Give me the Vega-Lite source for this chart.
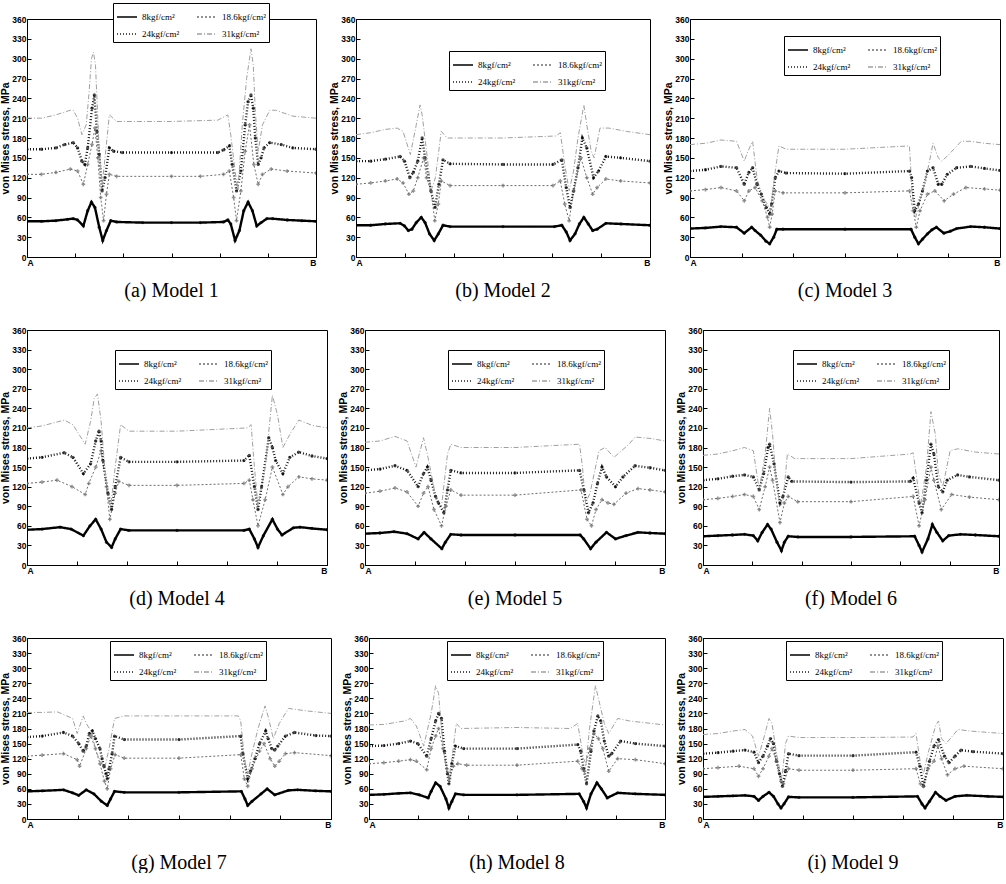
{
"$schema":"https://vega.github.io/schema/vega-lite/v6.json",
"padding":{"left":0,"top":2,"right":0,"bottom":0},
"background":"white",
"config":{
 "view":{"stroke":"#000","strokeWidth":1},
 "axis":{"labelFont":"Liberation Sans","labelFontWeight":"bold","labelFontSize":8.5,"labelColor":"#000","titleFont":"Liberation Sans","titleFontWeight":"bold","titleFontSize":10.5,"titleColor":"#000","domainColor":"#000","tickColor":"#000","grid":false,"tickSize":-4,"labelPadding":5,"titlePadding":1},
 "title":{"orient":"bottom","font":"Liberation Serif","fontSize":20,"fontWeight":"normal","color":"#000","offset":14,"anchor":"middle"},
 "legend":{"orient":"none","direction":"horizontal","columns":2,"fillColor":"white","strokeColor":"#000","strokeWidth":1,"padding":3,"labelFont":"Liberation Serif","labelFontSize":9,"labelColor":"#000","symbolType":"stroke","symbolSize":400,"symbolStrokeWidth":1.5,"columnPadding":14,"rowPadding":1,"labelLimit":90}
},
"data":{"values":[
{"p":"a","s":"8","x":0,"y":54},{"p":"a","s":"8","x":5,"y":54},{"p":"a","s":"8","x":10,"y":55},{"p":"a","s":"8","x":14,"y":57},{"p":"a","s":"8","x":16,"y":58},{"p":"a","s":"8","x":17.5,"y":56},{"p":"a","s":"8","x":19.5,"y":47},{"p":"a","s":"8","x":21,"y":70},{"p":"a","s":"8","x":22.3,"y":83},{"p":"a","s":"8","x":23.5,"y":75},{"p":"a","s":"8","x":25,"y":45},{"p":"a","s":"8","x":26.2,"y":25},{"p":"a","s":"8","x":27.5,"y":40},{"p":"a","s":"8","x":29,"y":55},{"p":"a","s":"8","x":31,"y":53},{"p":"a","s":"8","x":40,"y":52},{"p":"a","s":"8","x":50,"y":52},{"p":"a","s":"8","x":60,"y":52},{"p":"a","s":"8","x":68,"y":53},{"p":"a","s":"8","x":69.5,"y":56},{"p":"a","s":"8","x":70.5,"y":50},{"p":"a","s":"8","x":72,"y":25},{"p":"a","s":"8","x":73.5,"y":40},{"p":"a","s":"8","x":75,"y":70},{"p":"a","s":"8","x":76.5,"y":83},{"p":"a","s":"8","x":78,"y":70},{"p":"a","s":"8","x":79.5,"y":47},{"p":"a","s":"8","x":81,"y":52},{"p":"a","s":"8","x":83,"y":58},{"p":"a","s":"8","x":85,"y":58},{"p":"a","s":"8","x":90,"y":56},{"p":"a","s":"8","x":95,"y":55},{"p":"a","s":"8","x":100,"y":54},
{"p":"a","s":"24","x":0,"y":163},{"p":"a","s":"24","x":5,"y":163},{"p":"a","s":"24","x":10,"y":165},{"p":"a","s":"24","x":13,"y":170},{"p":"a","s":"24","x":16,"y":173},{"p":"a","s":"24","x":17.5,"y":165},{"p":"a","s":"24","x":19,"y":145},{"p":"a","s":"24","x":20,"y":140},{"p":"a","s":"24","x":21,"y":165},{"p":"a","s":"24","x":22.5,"y":225},{"p":"a","s":"24","x":23.3,"y":245},{"p":"a","s":"24","x":24.2,"y":190},{"p":"a","s":"24","x":25,"y":155},{"p":"a","s":"24","x":26,"y":100},{"p":"a","s":"24","x":27,"y":120},{"p":"a","s":"24","x":28.5,"y":165},{"p":"a","s":"24","x":30,"y":160},{"p":"a","s":"24","x":33,"y":158},{"p":"a","s":"24","x":50,"y":158},{"p":"a","s":"24","x":66,"y":158},{"p":"a","s":"24","x":68,"y":162},{"p":"a","s":"24","x":70,"y":168},{"p":"a","s":"24","x":71,"y":140},{"p":"a","s":"24","x":72.5,"y":100},{"p":"a","s":"24","x":74,"y":130},{"p":"a","s":"24","x":75.5,"y":200},{"p":"a","s":"24","x":76.5,"y":235},{"p":"a","s":"24","x":77.5,"y":245},{"p":"a","s":"24","x":78.3,"y":225},{"p":"a","s":"24","x":79,"y":180},{"p":"a","s":"24","x":80,"y":140},{"p":"a","s":"24","x":81,"y":150},{"p":"a","s":"24","x":82,"y":165},{"p":"a","s":"24","x":84,"y":173},{"p":"a","s":"24","x":88,"y":170},{"p":"a","s":"24","x":92,"y":165},{"p":"a","s":"24","x":100,"y":163},
{"p":"a","s":"18.6","x":0,"y":125},{"p":"a","s":"18.6","x":5,"y":125},{"p":"a","s":"18.6","x":10,"y":128},{"p":"a","s":"18.6","x":15,"y":133},{"p":"a","s":"18.6","x":17.5,"y":130},{"p":"a","s":"18.6","x":19.5,"y":110},{"p":"a","s":"18.6","x":21,"y":140},{"p":"a","s":"18.6","x":22.5,"y":170},{"p":"a","s":"18.6","x":23.5,"y":195},{"p":"a","s":"18.6","x":24.5,"y":150},{"p":"a","s":"18.6","x":25.5,"y":90},{"p":"a","s":"18.6","x":26.5,"y":55},{"p":"a","s":"18.6","x":27.5,"y":95},{"p":"a","s":"18.6","x":28.5,"y":125},{"p":"a","s":"18.6","x":31,"y":122},{"p":"a","s":"18.6","x":50,"y":122},{"p":"a","s":"18.6","x":60,"y":122},{"p":"a","s":"18.6","x":68,"y":125},{"p":"a","s":"18.6","x":70,"y":130},{"p":"a","s":"18.6","x":71.5,"y":90},{"p":"a","s":"18.6","x":72.5,"y":55},{"p":"a","s":"18.6","x":74,"y":100},{"p":"a","s":"18.6","x":75.5,"y":160},{"p":"a","s":"18.6","x":77,"y":200},{"p":"a","s":"18.6","x":78.5,"y":140},{"p":"a","s":"18.6","x":80,"y":110},{"p":"a","s":"18.6","x":81.5,"y":125},{"p":"a","s":"18.6","x":84.5,"y":133},{"p":"a","s":"18.6","x":90,"y":130},{"p":"a","s":"18.6","x":100,"y":127},
{"p":"a","s":"31","x":0,"y":210},{"p":"a","s":"31","x":5,"y":210},{"p":"a","s":"31","x":10,"y":215},{"p":"a","s":"31","x":15,"y":222},{"p":"a","s":"31","x":16,"y":222},{"p":"a","s":"31","x":17.5,"y":210},{"p":"a","s":"31","x":19,"y":185},{"p":"a","s":"31","x":20.5,"y":200},{"p":"a","s":"31","x":21.5,"y":250},{"p":"a","s":"31","x":22.3,"y":300},{"p":"a","s":"31","x":23,"y":310},{"p":"a","s":"31","x":23.7,"y":290},{"p":"a","s":"31","x":24.3,"y":230},{"p":"a","s":"31","x":25,"y":160},{"p":"a","s":"31","x":26,"y":110},{"p":"a","s":"31","x":27,"y":150},{"p":"a","s":"31","x":28.5,"y":215},{"p":"a","s":"31","x":31,"y":205},{"p":"a","s":"31","x":50,"y":205},{"p":"a","s":"31","x":66,"y":207},{"p":"a","s":"31","x":69.5,"y":215},{"p":"a","s":"31","x":70.5,"y":185},{"p":"a","s":"31","x":72,"y":130},{"p":"a","s":"31","x":73,"y":100},{"p":"a","s":"31","x":74.5,"y":200},{"p":"a","s":"31","x":76,"y":270},{"p":"a","s":"31","x":77.5,"y":315},{"p":"a","s":"31","x":78.3,"y":290},{"p":"a","s":"31","x":79,"y":220},{"p":"a","s":"31","x":80,"y":160},{"p":"a","s":"31","x":81.5,"y":200},{"p":"a","s":"31","x":84,"y":222},{"p":"a","s":"31","x":86,"y":222},{"p":"a","s":"31","x":92,"y":213},{"p":"a","s":"31","x":100,"y":210},

{"p":"b","s":"8","x":0,"y":48},{"p":"b","s":"8","x":5,"y":48},{"p":"b","s":"8","x":10,"y":50},{"p":"b","s":"8","x":15,"y":51},{"p":"b","s":"8","x":16.5,"y":47},{"p":"b","s":"8","x":17.8,"y":40},{"p":"b","s":"8","x":19,"y":42},{"p":"b","s":"8","x":20.5,"y":52},{"p":"b","s":"8","x":22.2,"y":60},{"p":"b","s":"8","x":23.5,"y":52},{"p":"b","s":"8","x":25,"y":35},{"p":"b","s":"8","x":26.6,"y":25},{"p":"b","s":"8","x":28,"y":35},{"p":"b","s":"8","x":29.6,"y":48},{"p":"b","s":"8","x":32,"y":46},{"p":"b","s":"8","x":50,"y":46},{"p":"b","s":"8","x":67.5,"y":46},{"p":"b","s":"8","x":70,"y":48},{"p":"b","s":"8","x":71.5,"y":38},{"p":"b","s":"8","x":72.8,"y":25},{"p":"b","s":"8","x":74.5,"y":35},{"p":"b","s":"8","x":76,"y":50},{"p":"b","s":"8","x":77.5,"y":60},{"p":"b","s":"8","x":79,"y":50},{"p":"b","s":"8","x":80.5,"y":40},{"p":"b","s":"8","x":82,"y":42},{"p":"b","s":"8","x":85,"y":51},{"p":"b","s":"8","x":90,"y":50},{"p":"b","s":"8","x":100,"y":48},
{"p":"b","s":"24","x":0,"y":145},{"p":"b","s":"24","x":5,"y":145},{"p":"b","s":"24","x":10,"y":148},{"p":"b","s":"24","x":15,"y":152},{"p":"b","s":"24","x":16.5,"y":145},{"p":"b","s":"24","x":18.3,"y":120},{"p":"b","s":"24","x":19.5,"y":128},{"p":"b","s":"24","x":21,"y":145},{"p":"b","s":"24","x":22.5,"y":180},{"p":"b","s":"24","x":23.5,"y":150},{"p":"b","s":"24","x":25.5,"y":100},{"p":"b","s":"24","x":26.9,"y":75},{"p":"b","s":"24","x":28.2,"y":110},{"p":"b","s":"24","x":29.6,"y":147},{"p":"b","s":"24","x":32,"y":141},{"p":"b","s":"24","x":50,"y":140},{"p":"b","s":"24","x":67,"y":140},{"p":"b","s":"24","x":70,"y":147},{"p":"b","s":"24","x":71.5,"y":105},{"p":"b","s":"24","x":72.8,"y":75},{"p":"b","s":"24","x":74,"y":100},{"p":"b","s":"24","x":75.5,"y":135},{"p":"b","s":"24","x":77,"y":180},{"p":"b","s":"24","x":78.5,"y":165},{"p":"b","s":"24","x":80.8,"y":120},{"p":"b","s":"24","x":82.5,"y":130},{"p":"b","s":"24","x":85,"y":152},{"p":"b","s":"24","x":90,"y":150},{"p":"b","s":"24","x":100,"y":145},
{"p":"b","s":"18.6","x":0,"y":110},{"p":"b","s":"18.6","x":5,"y":112},{"p":"b","s":"18.6","x":10,"y":115},{"p":"b","s":"18.6","x":14,"y":118},{"p":"b","s":"18.6","x":16,"y":112},{"p":"b","s":"18.6","x":18,"y":95},{"p":"b","s":"18.6","x":19.5,"y":100},{"p":"b","s":"18.6","x":21,"y":120},{"p":"b","s":"18.6","x":23,"y":150},{"p":"b","s":"18.6","x":24,"y":120},{"p":"b","s":"18.6","x":25.5,"y":100},{"p":"b","s":"18.6","x":26.8,"y":55},{"p":"b","s":"18.6","x":28,"y":80},{"p":"b","s":"18.6","x":29,"y":115},{"p":"b","s":"18.6","x":32,"y":108},{"p":"b","s":"18.6","x":50,"y":108},{"p":"b","s":"18.6","x":67,"y":108},{"p":"b","s":"18.6","x":69.5,"y":115},{"p":"b","s":"18.6","x":71,"y":80},{"p":"b","s":"18.6","x":72.5,"y":55},{"p":"b","s":"18.6","x":74,"y":100},{"p":"b","s":"18.6","x":76.5,"y":150},{"p":"b","s":"18.6","x":78.5,"y":120},{"p":"b","s":"18.6","x":80.5,"y":95},{"p":"b","s":"18.6","x":82,"y":105},{"p":"b","s":"18.6","x":85,"y":118},{"p":"b","s":"18.6","x":90,"y":115},{"p":"b","s":"18.6","x":100,"y":112},
{"p":"b","s":"31","x":0,"y":185},{"p":"b","s":"31","x":5,"y":188},{"p":"b","s":"31","x":10,"y":193},{"p":"b","s":"31","x":14,"y":195},{"p":"b","s":"31","x":16,"y":190},{"p":"b","s":"31","x":18.5,"y":155},{"p":"b","s":"31","x":20.5,"y":200},{"p":"b","s":"31","x":21.8,"y":230},{"p":"b","s":"31","x":22.5,"y":215},{"p":"b","s":"31","x":24,"y":160},{"p":"b","s":"31","x":25.5,"y":100},{"p":"b","s":"31","x":27,"y":120},{"p":"b","s":"31","x":29,"y":190},{"p":"b","s":"31","x":31,"y":180},{"p":"b","s":"31","x":50,"y":180},{"p":"b","s":"31","x":68,"y":183},{"p":"b","s":"31","x":69.5,"y":188},{"p":"b","s":"31","x":71,"y":140},{"p":"b","s":"31","x":72.5,"y":100},{"p":"b","s":"31","x":74,"y":130},{"p":"b","s":"31","x":75.5,"y":180},{"p":"b","s":"31","x":77.5,"y":230},{"p":"b","s":"31","x":78.5,"y":200},{"p":"b","s":"31","x":80,"y":160},{"p":"b","s":"31","x":81,"y":150},{"p":"b","s":"31","x":83,"y":195},{"p":"b","s":"31","x":86,"y":195},{"p":"b","s":"31","x":92,"y":190},{"p":"b","s":"31","x":100,"y":185},

{"p":"c","s":"8","x":0,"y":43},{"p":"c","s":"8","x":5,"y":44},{"p":"c","s":"8","x":10,"y":46},{"p":"c","s":"8","x":15,"y":45},{"p":"c","s":"8","x":17.5,"y":36},{"p":"c","s":"8","x":19.9,"y":45},{"p":"c","s":"8","x":21,"y":40},{"p":"c","s":"8","x":22.8,"y":33},{"p":"c","s":"8","x":24.5,"y":24},{"p":"c","s":"8","x":25.7,"y":20},{"p":"c","s":"8","x":27,"y":30},{"p":"c","s":"8","x":28,"y":42},{"p":"c","s":"8","x":30,"y":42},{"p":"c","s":"8","x":50,"y":42},{"p":"c","s":"8","x":71.3,"y":42},{"p":"c","s":"8","x":72.5,"y":30},{"p":"c","s":"8","x":73.7,"y":20},{"p":"c","s":"8","x":75,"y":27},{"p":"c","s":"8","x":76.6,"y":35},{"p":"c","s":"8","x":78,"y":41},{"p":"c","s":"8","x":79.5,"y":45},{"p":"c","s":"8","x":81.9,"y":36},{"p":"c","s":"8","x":84,"y":39},{"p":"c","s":"8","x":86,"y":43},{"p":"c","s":"8","x":90.6,"y":46},{"p":"c","s":"8","x":95,"y":45},{"p":"c","s":"8","x":100,"y":43},
{"p":"c","s":"24","x":0,"y":130},{"p":"c","s":"24","x":5,"y":132},{"p":"c","s":"24","x":10,"y":137},{"p":"c","s":"24","x":15,"y":135},{"p":"c","s":"24","x":17.5,"y":110},{"p":"c","s":"24","x":19,"y":128},{"p":"c","s":"24","x":20.2,"y":135},{"p":"c","s":"24","x":21.6,"y":110},{"p":"c","s":"24","x":23,"y":95},{"p":"c","s":"24","x":24.6,"y":75},{"p":"c","s":"24","x":25.7,"y":65},{"p":"c","s":"24","x":26.3,"y":80},{"p":"c","s":"24","x":27.5,"y":120},{"p":"c","s":"24","x":28.7,"y":130},{"p":"c","s":"24","x":31,"y":127},{"p":"c","s":"24","x":50,"y":126},{"p":"c","s":"24","x":70.8,"y":130},{"p":"c","s":"24","x":71.5,"y":120},{"p":"c","s":"24","x":72.5,"y":70},{"p":"c","s":"24","x":73.7,"y":80},{"p":"c","s":"24","x":75,"y":100},{"p":"c","s":"24","x":76.6,"y":130},{"p":"c","s":"24","x":78.4,"y":135},{"p":"c","s":"24","x":80.1,"y":110},{"p":"c","s":"24","x":81.2,"y":110},{"p":"c","s":"24","x":83,"y":125},{"p":"c","s":"24","x":86,"y":135},{"p":"c","s":"24","x":90.6,"y":137},{"p":"c","s":"24","x":95,"y":134},{"p":"c","s":"24","x":100,"y":131},
{"p":"c","s":"18.6","x":0,"y":100},{"p":"c","s":"18.6","x":5,"y":102},{"p":"c","s":"18.6","x":10,"y":105},{"p":"c","s":"18.6","x":15,"y":100},{"p":"c","s":"18.6","x":17.5,"y":85},{"p":"c","s":"18.6","x":19,"y":100},{"p":"c","s":"18.6","x":21,"y":105},{"p":"c","s":"18.6","x":23.3,"y":85},{"p":"c","s":"18.6","x":25,"y":60},{"p":"c","s":"18.6","x":25.7,"y":45},{"p":"c","s":"18.6","x":26.5,"y":65},{"p":"c","s":"18.6","x":27.5,"y":100},{"p":"c","s":"18.6","x":30,"y":97},{"p":"c","s":"18.6","x":50,"y":97},{"p":"c","s":"18.6","x":70.8,"y":100},{"p":"c","s":"18.6","x":72,"y":70},{"p":"c","s":"18.6","x":73,"y":45},{"p":"c","s":"18.6","x":74.2,"y":70},{"p":"c","s":"18.6","x":76.6,"y":95},{"p":"c","s":"18.6","x":79,"y":100},{"p":"c","s":"18.6","x":82,"y":85},{"p":"c","s":"18.6","x":85,"y":95},{"p":"c","s":"18.6","x":89,"y":105},{"p":"c","s":"18.6","x":95,"y":103},{"p":"c","s":"18.6","x":100,"y":101},
{"p":"c","s":"31","x":0,"y":170},{"p":"c","s":"31","x":5,"y":172},{"p":"c","s":"31","x":10,"y":177},{"p":"c","s":"31","x":15,"y":175},{"p":"c","s":"31","x":17.5,"y":145},{"p":"c","s":"31","x":18.7,"y":160},{"p":"c","s":"31","x":20.2,"y":175},{"p":"c","s":"31","x":21.6,"y":120},{"p":"c","s":"31","x":23.3,"y":90},{"p":"c","s":"31","x":25,"y":80},{"p":"c","s":"31","x":26,"y":70},{"p":"c","s":"31","x":27.5,"y":130},{"p":"c","s":"31","x":28.7,"y":168},{"p":"c","s":"31","x":31,"y":163},{"p":"c","s":"31","x":50,"y":163},{"p":"c","s":"31","x":70.8,"y":168},{"p":"c","s":"31","x":71.6,"y":100},{"p":"c","s":"31","x":72.8,"y":60},{"p":"c","s":"31","x":74.5,"y":90},{"p":"c","s":"31","x":76.6,"y":130},{"p":"c","s":"31","x":78.4,"y":172},{"p":"c","s":"31","x":80.1,"y":150},{"p":"c","s":"31","x":81.2,"y":145},{"p":"c","s":"31","x":83.5,"y":155},{"p":"c","s":"31","x":87.5,"y":175},{"p":"c","s":"31","x":90.6,"y":175},{"p":"c","s":"31","x":95,"y":172},{"p":"c","s":"31","x":100,"y":170},

{"p":"d","s":"8","x":0,"y":54},{"p":"d","s":"8","x":5,"y":55},{"p":"d","s":"8","x":11,"y":58},{"p":"d","s":"8","x":14.7,"y":55},{"p":"d","s":"8","x":18.8,"y":45},{"p":"d","s":"8","x":21,"y":60},{"p":"d","s":"8","x":22.9,"y":70},{"p":"d","s":"8","x":24.7,"y":55},{"p":"d","s":"8","x":26.5,"y":35},{"p":"d","s":"8","x":28.2,"y":27},{"p":"d","s":"8","x":29.4,"y":40},{"p":"d","s":"8","x":31.2,"y":55},{"p":"d","s":"8","x":34,"y":53},{"p":"d","s":"8","x":50,"y":53},{"p":"d","s":"8","x":72.3,"y":53},{"p":"d","s":"8","x":74.1,"y":55},{"p":"d","s":"8","x":75.8,"y":40},{"p":"d","s":"8","x":77,"y":27},{"p":"d","s":"8","x":78.8,"y":45},{"p":"d","s":"8","x":81.8,"y":70},{"p":"d","s":"8","x":83.5,"y":55},{"p":"d","s":"8","x":85,"y":46},{"p":"d","s":"8","x":88.8,"y":57},{"p":"d","s":"8","x":91,"y":58},{"p":"d","s":"8","x":95,"y":56},{"p":"d","s":"8","x":100,"y":54},
{"p":"d","s":"24","x":0,"y":163},{"p":"d","s":"24","x":5,"y":165},{"p":"d","s":"24","x":12.4,"y":172},{"p":"d","s":"24","x":15.3,"y":165},{"p":"d","s":"24","x":18.8,"y":140},{"p":"d","s":"24","x":21.2,"y":155},{"p":"d","s":"24","x":22.9,"y":190},{"p":"d","s":"24","x":24,"y":205},{"p":"d","s":"24","x":24.7,"y":190},{"p":"d","s":"24","x":25.3,"y":160},{"p":"d","s":"24","x":27,"y":110},{"p":"d","s":"24","x":28.2,"y":85},{"p":"d","s":"24","x":29.4,"y":120},{"p":"d","s":"24","x":31.2,"y":165},{"p":"d","s":"24","x":34,"y":158},{"p":"d","s":"24","x":50,"y":158},{"p":"d","s":"24","x":72.3,"y":160},{"p":"d","s":"24","x":74.1,"y":168},{"p":"d","s":"24","x":75.8,"y":120},{"p":"d","s":"24","x":77,"y":85},{"p":"d","s":"24","x":78.2,"y":120},{"p":"d","s":"24","x":80.6,"y":195},{"p":"d","s":"24","x":81.8,"y":180},{"p":"d","s":"24","x":82.9,"y":160},{"p":"d","s":"24","x":85.3,"y":140},{"p":"d","s":"24","x":87.6,"y":165},{"p":"d","s":"24","x":90.6,"y":173},{"p":"d","s":"24","x":95,"y":167},{"p":"d","s":"24","x":100,"y":163},
{"p":"d","s":"18.6","x":0,"y":125},{"p":"d","s":"18.6","x":5,"y":127},{"p":"d","s":"18.6","x":10,"y":130},{"p":"d","s":"18.6","x":15,"y":120},{"p":"d","s":"18.6","x":19.4,"y":108},{"p":"d","s":"18.6","x":20.6,"y":125},{"p":"d","s":"18.6","x":22.9,"y":150},{"p":"d","s":"18.6","x":24.7,"y":175},{"p":"d","s":"18.6","x":26.5,"y":120},{"p":"d","s":"18.6","x":27.6,"y":70},{"p":"d","s":"18.6","x":29.4,"y":110},{"p":"d","s":"18.6","x":30.6,"y":128},{"p":"d","s":"18.6","x":34,"y":122},{"p":"d","s":"18.6","x":50,"y":122},{"p":"d","s":"18.6","x":72.3,"y":125},{"p":"d","s":"18.6","x":74.1,"y":130},{"p":"d","s":"18.6","x":75.3,"y":100},{"p":"d","s":"18.6","x":77,"y":60},{"p":"d","s":"18.6","x":79.4,"y":100},{"p":"d","s":"18.6","x":81.8,"y":150},{"p":"d","s":"18.6","x":85.3,"y":108},{"p":"d","s":"18.6","x":87,"y":120},{"p":"d","s":"18.6","x":90.6,"y":135},{"p":"d","s":"18.6","x":95,"y":132},{"p":"d","s":"18.6","x":100,"y":130},
{"p":"d","s":"31","x":0,"y":210},{"p":"d","s":"31","x":5,"y":213},{"p":"d","s":"31","x":12.4,"y":222},{"p":"d","s":"31","x":15.3,"y":215},{"p":"d","s":"31","x":19.4,"y":185},{"p":"d","s":"31","x":21.2,"y":220},{"p":"d","s":"31","x":22.4,"y":255},{"p":"d","s":"31","x":23.5,"y":262},{"p":"d","s":"31","x":24.7,"y":220},{"p":"d","s":"31","x":25.9,"y":150},{"p":"d","s":"31","x":27,"y":100},{"p":"d","s":"31","x":27.9,"y":90},{"p":"d","s":"31","x":29.4,"y":150},{"p":"d","s":"31","x":31.2,"y":215},{"p":"d","s":"31","x":34,"y":205},{"p":"d","s":"31","x":50,"y":205},{"p":"d","s":"31","x":73.5,"y":210},{"p":"d","s":"31","x":74.7,"y":215},{"p":"d","s":"31","x":75.8,"y":150},{"p":"d","s":"31","x":77,"y":90},{"p":"d","s":"31","x":79.4,"y":150},{"p":"d","s":"31","x":81.8,"y":260},{"p":"d","s":"31","x":83.5,"y":230},{"p":"d","s":"31","x":85.3,"y":180},{"p":"d","s":"31","x":87.6,"y":200},{"p":"d","s":"31","x":90.6,"y":222},{"p":"d","s":"31","x":95,"y":214},{"p":"d","s":"31","x":100,"y":210},

{"p":"e","s":"8","x":0,"y":48},{"p":"e","s":"8","x":5,"y":49},{"p":"e","s":"8","x":9.7,"y":51},{"p":"e","s":"8","x":14,"y":48},{"p":"e","s":"8","x":17.7,"y":40},{"p":"e","s":"8","x":19.7,"y":50},{"p":"e","s":"8","x":22,"y":40},{"p":"e","s":"8","x":25.6,"y":25},{"p":"e","s":"8","x":26.8,"y":35},{"p":"e","s":"8","x":28.6,"y":47},{"p":"e","s":"8","x":32,"y":46},{"p":"e","s":"8","x":50,"y":46},{"p":"e","s":"8","x":71.7,"y":46},{"p":"e","s":"8","x":72.9,"y":40},{"p":"e","s":"8","x":75.2,"y":25},{"p":"e","s":"8","x":77,"y":35},{"p":"e","s":"8","x":80.5,"y":50},{"p":"e","s":"8","x":83.5,"y":40},{"p":"e","s":"8","x":87,"y":45},{"p":"e","s":"8","x":91,"y":50},{"p":"e","s":"8","x":95,"y":49},{"p":"e","s":"8","x":100,"y":48},
{"p":"e","s":"24","x":0,"y":145},{"p":"e","s":"24","x":5,"y":147},{"p":"e","s":"24","x":10,"y":152},{"p":"e","s":"24","x":14,"y":145},{"p":"e","s":"24","x":17.7,"y":120},{"p":"e","s":"24","x":19.5,"y":140},{"p":"e","s":"24","x":20.8,"y":150},{"p":"e","s":"24","x":22,"y":130},{"p":"e","s":"24","x":23.5,"y":105},{"p":"e","s":"24","x":24.5,"y":95},{"p":"e","s":"24","x":26.3,"y":80},{"p":"e","s":"24","x":27.5,"y":115},{"p":"e","s":"24","x":28.6,"y":145},{"p":"e","s":"24","x":32,"y":141},{"p":"e","s":"24","x":50,"y":141},{"p":"e","s":"24","x":71.5,"y":145},{"p":"e","s":"24","x":73,"y":115},{"p":"e","s":"24","x":74.5,"y":80},{"p":"e","s":"24","x":76,"y":95},{"p":"e","s":"24","x":77.5,"y":125},{"p":"e","s":"24","x":79,"y":150},{"p":"e","s":"24","x":80.5,"y":135},{"p":"e","s":"24","x":83.5,"y":120},{"p":"e","s":"24","x":86,"y":135},{"p":"e","s":"24","x":90,"y":152},{"p":"e","s":"24","x":95,"y":149},{"p":"e","s":"24","x":100,"y":145},
{"p":"e","s":"18.6","x":0,"y":110},{"p":"e","s":"18.6","x":5,"y":113},{"p":"e","s":"18.6","x":10,"y":118},{"p":"e","s":"18.6","x":14,"y":112},{"p":"e","s":"18.6","x":17.7,"y":90},{"p":"e","s":"18.6","x":19.5,"y":110},{"p":"e","s":"18.6","x":21,"y":120},{"p":"e","s":"18.6","x":23,"y":85},{"p":"e","s":"18.6","x":25.5,"y":60},{"p":"e","s":"18.6","x":27,"y":90},{"p":"e","s":"18.6","x":28.6,"y":115},{"p":"e","s":"18.6","x":32,"y":107},{"p":"e","s":"18.6","x":50,"y":107},{"p":"e","s":"18.6","x":72,"y":115},{"p":"e","s":"18.6","x":74,"y":70},{"p":"e","s":"18.6","x":75.5,"y":60},{"p":"e","s":"18.6","x":77,"y":85},{"p":"e","s":"18.6","x":79,"y":100},{"p":"e","s":"18.6","x":81,"y":95},{"p":"e","s":"18.6","x":83,"y":93},{"p":"e","s":"18.6","x":87,"y":110},{"p":"e","s":"18.6","x":91,"y":117},{"p":"e","s":"18.6","x":95,"y":115},{"p":"e","s":"18.6","x":100,"y":112},
{"p":"e","s":"31","x":0,"y":188},{"p":"e","s":"31","x":5,"y":190},{"p":"e","s":"31","x":10,"y":197},{"p":"e","s":"31","x":14,"y":190},{"p":"e","s":"31","x":17,"y":150},{"p":"e","s":"31","x":19.5,"y":195},{"p":"e","s":"31","x":21,"y":165},{"p":"e","s":"31","x":22.5,"y":130},{"p":"e","s":"31","x":24,"y":95},{"p":"e","s":"31","x":25.5,"y":90},{"p":"e","s":"31","x":27.5,"y":170},{"p":"e","s":"31","x":28.6,"y":185},{"p":"e","s":"31","x":32,"y":180},{"p":"e","s":"31","x":50,"y":180},{"p":"e","s":"31","x":71.5,"y":185},{"p":"e","s":"31","x":72.5,"y":150},{"p":"e","s":"31","x":73.5,"y":95},{"p":"e","s":"31","x":75,"y":110},{"p":"e","s":"31","x":78,"y":175},{"p":"e","s":"31","x":80,"y":180},{"p":"e","s":"31","x":83,"y":165},{"p":"e","s":"31","x":88,"y":185},{"p":"e","s":"31","x":90,"y":196},{"p":"e","s":"31","x":95,"y":194},{"p":"e","s":"31","x":100,"y":190},

{"p":"f","s":"8","x":0,"y":44},{"p":"f","s":"8","x":5,"y":45},{"p":"f","s":"8","x":10,"y":46},{"p":"f","s":"8","x":14,"y":47},{"p":"f","s":"8","x":17,"y":45},{"p":"f","s":"8","x":18.5,"y":37},{"p":"f","s":"8","x":20,"y":50},{"p":"f","s":"8","x":21.8,"y":62},{"p":"f","s":"8","x":23,"y":55},{"p":"f","s":"8","x":25,"y":35},{"p":"f","s":"8","x":26.5,"y":22},{"p":"f","s":"8","x":27.5,"y":35},{"p":"f","s":"8","x":28.8,"y":44},{"p":"f","s":"8","x":32,"y":43},{"p":"f","s":"8","x":50,"y":43},{"p":"f","s":"8","x":71.5,"y":44},{"p":"f","s":"8","x":73,"y":30},{"p":"f","s":"8","x":74,"y":20},{"p":"f","s":"8","x":76,"y":40},{"p":"f","s":"8","x":77.5,"y":62},{"p":"f","s":"8","x":79,"y":50},{"p":"f","s":"8","x":81,"y":37},{"p":"f","s":"8","x":83,"y":45},{"p":"f","s":"8","x":87,"y":47},{"p":"f","s":"8","x":92,"y":46},{"p":"f","s":"8","x":100,"y":44},
{"p":"f","s":"24","x":0,"y":130},{"p":"f","s":"24","x":5,"y":132},{"p":"f","s":"24","x":10,"y":136},{"p":"f","s":"24","x":14,"y":138},{"p":"f","s":"24","x":17,"y":135},{"p":"f","s":"24","x":19,"y":115},{"p":"f","s":"24","x":20.5,"y":140},{"p":"f","s":"24","x":22,"y":180},{"p":"f","s":"24","x":22.5,"y":185},{"p":"f","s":"24","x":24,"y":155},{"p":"f","s":"24","x":26,"y":95},{"p":"f","s":"24","x":27,"y":105},{"p":"f","s":"24","x":28.8,"y":135},{"p":"f","s":"24","x":30,"y":128},{"p":"f","s":"24","x":50,"y":127},{"p":"f","s":"24","x":70,"y":128},{"p":"f","s":"24","x":71,"y":133},{"p":"f","s":"24","x":73,"y":95},{"p":"f","s":"24","x":74,"y":80},{"p":"f","s":"24","x":75.5,"y":130},{"p":"f","s":"24","x":77,"y":185},{"p":"f","s":"24","x":78,"y":170},{"p":"f","s":"24","x":79.5,"y":120},{"p":"f","s":"24","x":81,"y":112},{"p":"f","s":"24","x":82.5,"y":130},{"p":"f","s":"24","x":86,"y":138},{"p":"f","s":"24","x":90,"y":135},{"p":"f","s":"24","x":100,"y":130},
{"p":"f","s":"18.6","x":0,"y":100},{"p":"f","s":"18.6","x":5,"y":102},{"p":"f","s":"18.6","x":10,"y":105},{"p":"f","s":"18.6","x":14,"y":108},{"p":"f","s":"18.6","x":17,"y":105},{"p":"f","s":"18.6","x":19,"y":85},{"p":"f","s":"18.6","x":21,"y":120},{"p":"f","s":"18.6","x":22.5,"y":150},{"p":"f","s":"18.6","x":23.5,"y":130},{"p":"f","s":"18.6","x":26,"y":65},{"p":"f","s":"18.6","x":27.5,"y":95},{"p":"f","s":"18.6","x":28.8,"y":105},{"p":"f","s":"18.6","x":32,"y":97},{"p":"f","s":"18.6","x":50,"y":97},{"p":"f","s":"18.6","x":71,"y":105},{"p":"f","s":"18.6","x":73,"y":60},{"p":"f","s":"18.6","x":75,"y":100},{"p":"f","s":"18.6","x":77,"y":150},{"p":"f","s":"18.6","x":78,"y":130},{"p":"f","s":"18.6","x":80.5,"y":85},{"p":"f","s":"18.6","x":84,"y":108},{"p":"f","s":"18.6","x":90,"y":104},{"p":"f","s":"18.6","x":100,"y":100},
{"p":"f","s":"31","x":0,"y":168},{"p":"f","s":"31","x":5,"y":170},{"p":"f","s":"31","x":10,"y":175},{"p":"f","s":"31","x":14,"y":180},{"p":"f","s":"31","x":17,"y":175},{"p":"f","s":"31","x":19,"y":115},{"p":"f","s":"31","x":21,"y":170},{"p":"f","s":"31","x":22.5,"y":240},{"p":"f","s":"31","x":23.5,"y":200},{"p":"f","s":"31","x":24.5,"y":140},{"p":"f","s":"31","x":26,"y":90},{"p":"f","s":"31","x":27,"y":95},{"p":"f","s":"31","x":28.5,"y":170},{"p":"f","s":"31","x":31,"y":163},{"p":"f","s":"31","x":50,"y":163},{"p":"f","s":"31","x":70,"y":170},{"p":"f","s":"31","x":71,"y":172},{"p":"f","s":"31","x":72,"y":140},{"p":"f","s":"31","x":73.5,"y":90},{"p":"f","s":"31","x":75.5,"y":150},{"p":"f","s":"31","x":77,"y":235},{"p":"f","s":"31","x":78.5,"y":200},{"p":"f","s":"31","x":79.5,"y":140},{"p":"f","s":"31","x":81,"y":120},{"p":"f","s":"31","x":83.5,"y":175},{"p":"f","s":"31","x":86,"y":178},{"p":"f","s":"31","x":92,"y":173},{"p":"f","s":"31","x":100,"y":170},

{"p":"g","s":"8","x":0,"y":55},{"p":"g","s":"8","x":5,"y":56},{"p":"g","s":"8","x":12,"y":58},{"p":"g","s":"8","x":15,"y":52},{"p":"g","s":"8","x":17,"y":47},{"p":"g","s":"8","x":19.5,"y":58},{"p":"g","s":"8","x":22,"y":50},{"p":"g","s":"8","x":24.5,"y":35},{"p":"g","s":"8","x":26.4,"y":27},{"p":"g","s":"8","x":27.5,"y":40},{"p":"g","s":"8","x":28.8,"y":55},{"p":"g","s":"8","x":32,"y":53},{"p":"g","s":"8","x":50,"y":53},{"p":"g","s":"8","x":70.5,"y":55},{"p":"g","s":"8","x":71.7,"y":40},{"p":"g","s":"8","x":72.6,"y":27},{"p":"g","s":"8","x":74,"y":35},{"p":"g","s":"8","x":77,"y":50},{"p":"g","s":"8","x":79,"y":60},{"p":"g","s":"8","x":81.5,"y":48},{"p":"g","s":"8","x":86,"y":57},{"p":"g","s":"8","x":89,"y":58},{"p":"g","s":"8","x":95,"y":56},{"p":"g","s":"8","x":100,"y":55},
{"p":"g","s":"24","x":0,"y":163},{"p":"g","s":"24","x":5,"y":165},{"p":"g","s":"24","x":12,"y":172},{"p":"g","s":"24","x":15,"y":165},{"p":"g","s":"24","x":17,"y":150},{"p":"g","s":"24","x":18.5,"y":135},{"p":"g","s":"24","x":19.5,"y":145},{"p":"g","s":"24","x":20.5,"y":170},{"p":"g","s":"24","x":21.5,"y":175},{"p":"g","s":"24","x":22.5,"y":160},{"p":"g","s":"24","x":24,"y":140},{"p":"g","s":"24","x":24.7,"y":120},{"p":"g","s":"24","x":25.3,"y":105},{"p":"g","s":"24","x":26,"y":90},{"p":"g","s":"24","x":26.4,"y":80},{"p":"g","s":"24","x":27,"y":100},{"p":"g","s":"24","x":28,"y":130},{"p":"g","s":"24","x":28.8,"y":165},{"p":"g","s":"24","x":32,"y":158},{"p":"g","s":"24","x":50,"y":158},{"p":"g","s":"24","x":70.3,"y":165},{"p":"g","s":"24","x":71,"y":130},{"p":"g","s":"24","x":72.6,"y":80},{"p":"g","s":"24","x":73.5,"y":95},{"p":"g","s":"24","x":75,"y":120},{"p":"g","s":"24","x":76.5,"y":150},{"p":"g","s":"24","x":78.5,"y":175},{"p":"g","s":"24","x":79.3,"y":160},{"p":"g","s":"24","x":80.5,"y":140},{"p":"g","s":"24","x":81.5,"y":137},{"p":"g","s":"24","x":82.5,"y":145},{"p":"g","s":"24","x":85,"y":165},{"p":"g","s":"24","x":88,"y":172},{"p":"g","s":"24","x":95,"y":166},{"p":"g","s":"24","x":100,"y":165},
{"p":"g","s":"18.6","x":0,"y":125},{"p":"g","s":"18.6","x":5,"y":127},{"p":"g","s":"18.6","x":12,"y":130},{"p":"g","s":"18.6","x":16.5,"y":118},{"p":"g","s":"18.6","x":17.3,"y":105},{"p":"g","s":"18.6","x":19.5,"y":140},{"p":"g","s":"18.6","x":21,"y":165},{"p":"g","s":"18.6","x":22.5,"y":140},{"p":"g","s":"18.6","x":24,"y":110},{"p":"g","s":"18.6","x":25.5,"y":75},{"p":"g","s":"18.6","x":26.4,"y":60},{"p":"g","s":"18.6","x":27.5,"y":100},{"p":"g","s":"18.6","x":29,"y":128},{"p":"g","s":"18.6","x":32,"y":121},{"p":"g","s":"18.6","x":50,"y":121},{"p":"g","s":"18.6","x":70.3,"y":128},{"p":"g","s":"18.6","x":71.5,"y":80},{"p":"g","s":"18.6","x":72.6,"y":65},{"p":"g","s":"18.6","x":74,"y":100},{"p":"g","s":"18.6","x":76.5,"y":135},{"p":"g","s":"18.6","x":78,"y":150},{"p":"g","s":"18.6","x":80,"y":120},{"p":"g","s":"18.6","x":81.5,"y":105},{"p":"g","s":"18.6","x":83,"y":115},{"p":"g","s":"18.6","x":85,"y":130},{"p":"g","s":"18.6","x":88,"y":132},{"p":"g","s":"18.6","x":100,"y":126},
{"p":"g","s":"31","x":0,"y":212},{"p":"g","s":"31","x":5,"y":212},{"p":"g","s":"31","x":10,"y":213},{"p":"g","s":"31","x":15,"y":200},{"p":"g","s":"31","x":16.5,"y":170},{"p":"g","s":"31","x":18.5,"y":205},{"p":"g","s":"31","x":19.5,"y":190},{"p":"g","s":"31","x":21,"y":175},{"p":"g","s":"31","x":23,"y":130},{"p":"g","s":"31","x":25.5,"y":100},{"p":"g","s":"31","x":27,"y":140},{"p":"g","s":"31","x":28.8,"y":200},{"p":"g","s":"31","x":32,"y":205},{"p":"g","s":"31","x":50,"y":205},{"p":"g","s":"31","x":69.5,"y":205},{"p":"g","s":"31","x":70.3,"y":195},{"p":"g","s":"31","x":71.5,"y":120},{"p":"g","s":"31","x":72.6,"y":90},{"p":"g","s":"31","x":74,"y":130},{"p":"g","s":"31","x":76,"y":180},{"p":"g","s":"31","x":78.3,"y":225},{"p":"g","s":"31","x":79.5,"y":200},{"p":"g","s":"31","x":81,"y":160},{"p":"g","s":"31","x":83,"y":190},{"p":"g","s":"31","x":86,"y":220},{"p":"g","s":"31","x":92,"y":215},{"p":"g","s":"31","x":100,"y":210},

{"p":"h","s":"8","x":0,"y":48},{"p":"h","s":"8","x":5,"y":49},{"p":"h","s":"8","x":10,"y":51},{"p":"h","s":"8","x":14,"y":52},{"p":"h","s":"8","x":17,"y":48},{"p":"h","s":"8","x":20,"y":42},{"p":"h","s":"8","x":21,"y":55},{"p":"h","s":"8","x":22.5,"y":72},{"p":"h","s":"8","x":24,"y":65},{"p":"h","s":"8","x":26,"y":40},{"p":"h","s":"8","x":27,"y":22},{"p":"h","s":"8","x":28,"y":35},{"p":"h","s":"8","x":29.2,"y":50},{"p":"h","s":"8","x":32,"y":48},{"p":"h","s":"8","x":50,"y":48},{"p":"h","s":"8","x":71,"y":50},{"p":"h","s":"8","x":72.5,"y":35},{"p":"h","s":"8","x":73.5,"y":22},{"p":"h","s":"8","x":75,"y":50},{"p":"h","s":"8","x":77,"y":72},{"p":"h","s":"8","x":78.5,"y":60},{"p":"h","s":"8","x":80.5,"y":42},{"p":"h","s":"8","x":84,"y":52},{"p":"h","s":"8","x":90,"y":50},{"p":"h","s":"8","x":100,"y":48},
{"p":"h","s":"24","x":0,"y":145},{"p":"h","s":"24","x":5,"y":146},{"p":"h","s":"24","x":10,"y":150},{"p":"h","s":"24","x":14,"y":155},{"p":"h","s":"24","x":16.5,"y":150},{"p":"h","s":"24","x":19.5,"y":125},{"p":"h","s":"24","x":21,"y":160},{"p":"h","s":"24","x":22.5,"y":195},{"p":"h","s":"24","x":23.5,"y":210},{"p":"h","s":"24","x":24.5,"y":200},{"p":"h","s":"24","x":25.5,"y":135},{"p":"h","s":"24","x":26.5,"y":90},{"p":"h","s":"24","x":27,"y":70},{"p":"h","s":"24","x":28,"y":110},{"p":"h","s":"24","x":29.2,"y":145},{"p":"h","s":"24","x":32,"y":140},{"p":"h","s":"24","x":50,"y":140},{"p":"h","s":"24","x":70.5,"y":148},{"p":"h","s":"24","x":71.5,"y":135},{"p":"h","s":"24","x":72.5,"y":100},{"p":"h","s":"24","x":73.5,"y":70},{"p":"h","s":"24","x":75,"y":135},{"p":"h","s":"24","x":76,"y":175},{"p":"h","s":"24","x":77.3,"y":205},{"p":"h","s":"24","x":78.3,"y":195},{"p":"h","s":"24","x":79.5,"y":155},{"p":"h","s":"24","x":81,"y":125},{"p":"h","s":"24","x":82,"y":130},{"p":"h","s":"24","x":85,"y":155},{"p":"h","s":"24","x":90,"y":150},{"p":"h","s":"24","x":100,"y":145},
{"p":"h","s":"18.6","x":0,"y":110},{"p":"h","s":"18.6","x":5,"y":112},{"p":"h","s":"18.6","x":10,"y":115},{"p":"h","s":"18.6","x":14,"y":118},{"p":"h","s":"18.6","x":16,"y":115},{"p":"h","s":"18.6","x":19.5,"y":98},{"p":"h","s":"18.6","x":21,"y":140},{"p":"h","s":"18.6","x":22.5,"y":165},{"p":"h","s":"18.6","x":23.5,"y":180},{"p":"h","s":"18.6","x":25,"y":140},{"p":"h","s":"18.6","x":26.3,"y":100},{"p":"h","s":"18.6","x":27.2,"y":80},{"p":"h","s":"18.6","x":28.5,"y":105},{"p":"h","s":"18.6","x":30,"y":110},{"p":"h","s":"18.6","x":33,"y":107},{"p":"h","s":"18.6","x":50,"y":107},{"p":"h","s":"18.6","x":70.5,"y":115},{"p":"h","s":"18.6","x":72,"y":100},{"p":"h","s":"18.6","x":72.8,"y":95},{"p":"h","s":"18.6","x":74.5,"y":140},{"p":"h","s":"18.6","x":76,"y":170},{"p":"h","s":"18.6","x":77.5,"y":160},{"p":"h","s":"18.6","x":79,"y":140},{"p":"h","s":"18.6","x":81,"y":95},{"p":"h","s":"18.6","x":84,"y":120},{"p":"h","s":"18.6","x":90,"y":118},{"p":"h","s":"18.6","x":100,"y":110},
{"p":"h","s":"31","x":0,"y":187},{"p":"h","s":"31","x":5,"y":188},{"p":"h","s":"31","x":12,"y":195},{"p":"h","s":"31","x":14,"y":200},{"p":"h","s":"31","x":16,"y":185},{"p":"h","s":"31","x":18.5,"y":145},{"p":"h","s":"31","x":21,"y":210},{"p":"h","s":"31","x":22.5,"y":265},{"p":"h","s":"31","x":23.5,"y":250},{"p":"h","s":"31","x":24.5,"y":180},{"p":"h","s":"31","x":25.5,"y":120},{"p":"h","s":"31","x":27,"y":75},{"p":"h","s":"31","x":28,"y":120},{"p":"h","s":"31","x":29.5,"y":190},{"p":"h","s":"31","x":31,"y":180},{"p":"h","s":"31","x":50,"y":182},{"p":"h","s":"31","x":68,"y":180},{"p":"h","s":"31","x":70.5,"y":190},{"p":"h","s":"31","x":72.5,"y":120},{"p":"h","s":"31","x":73.3,"y":110},{"p":"h","s":"31","x":74.5,"y":180},{"p":"h","s":"31","x":76.5,"y":265},{"p":"h","s":"31","x":77.5,"y":240},{"p":"h","s":"31","x":79.5,"y":190},{"p":"h","s":"31","x":81,"y":170},{"p":"h","s":"31","x":84,"y":200},{"p":"h","s":"31","x":88,"y":195},{"p":"h","s":"31","x":100,"y":187},

{"p":"i","s":"8","x":0,"y":44},{"p":"i","s":"8","x":5,"y":45},{"p":"i","s":"8","x":10,"y":46},{"p":"i","s":"8","x":14,"y":47},{"p":"i","s":"8","x":17,"y":45},{"p":"i","s":"8","x":18.5,"y":37},{"p":"i","s":"8","x":20,"y":45},{"p":"i","s":"8","x":22,"y":53},{"p":"i","s":"8","x":23.5,"y":45},{"p":"i","s":"8","x":25,"y":30},{"p":"i","s":"8","x":26,"y":22},{"p":"i","s":"8","x":27,"y":30},{"p":"i","s":"8","x":28.5,"y":44},{"p":"i","s":"8","x":32,"y":43},{"p":"i","s":"8","x":50,"y":43},{"p":"i","s":"8","x":71.5,"y":45},{"p":"i","s":"8","x":73,"y":30},{"p":"i","s":"8","x":74,"y":22},{"p":"i","s":"8","x":75.5,"y":35},{"p":"i","s":"8","x":77.5,"y":53},{"p":"i","s":"8","x":79,"y":45},{"p":"i","s":"8","x":81,"y":37},{"p":"i","s":"8","x":84,"y":45},{"p":"i","s":"8","x":88,"y":47},{"p":"i","s":"8","x":95,"y":45},{"p":"i","s":"8","x":100,"y":44},
{"p":"i","s":"24","x":0,"y":130},{"p":"i","s":"24","x":5,"y":132},{"p":"i","s":"24","x":10,"y":135},{"p":"i","s":"24","x":14,"y":137},{"p":"i","s":"24","x":17,"y":133},{"p":"i","s":"24","x":18.5,"y":112},{"p":"i","s":"24","x":20,"y":125},{"p":"i","s":"24","x":21.5,"y":145},{"p":"i","s":"24","x":22.5,"y":160},{"p":"i","s":"24","x":23.5,"y":150},{"p":"i","s":"24","x":24.5,"y":115},{"p":"i","s":"24","x":25.5,"y":90},{"p":"i","s":"24","x":26.5,"y":65},{"p":"i","s":"24","x":27.5,"y":95},{"p":"i","s":"24","x":28.5,"y":130},{"p":"i","s":"24","x":32,"y":126},{"p":"i","s":"24","x":50,"y":126},{"p":"i","s":"24","x":71,"y":133},{"p":"i","s":"24","x":72.3,"y":105},{"p":"i","s":"24","x":73.5,"y":65},{"p":"i","s":"24","x":75.5,"y":115},{"p":"i","s":"24","x":77,"y":145},{"p":"i","s":"24","x":78.5,"y":158},{"p":"i","s":"24","x":80.5,"y":125},{"p":"i","s":"24","x":82,"y":112},{"p":"i","s":"24","x":84,"y":125},{"p":"i","s":"24","x":86,"y":137},{"p":"i","s":"24","x":90,"y":134},{"p":"i","s":"24","x":100,"y":130},
{"p":"i","s":"18.6","x":0,"y":100},{"p":"i","s":"18.6","x":5,"y":102},{"p":"i","s":"18.6","x":12,"y":105},{"p":"i","s":"18.6","x":17,"y":100},{"p":"i","s":"18.6","x":18.5,"y":85},{"p":"i","s":"18.6","x":20,"y":100},{"p":"i","s":"18.6","x":22,"y":125},{"p":"i","s":"18.6","x":23,"y":140},{"p":"i","s":"18.6","x":24.5,"y":115},{"p":"i","s":"18.6","x":26,"y":75},{"p":"i","s":"18.6","x":26.8,"y":70},{"p":"i","s":"18.6","x":28.5,"y":100},{"p":"i","s":"18.6","x":32,"y":97},{"p":"i","s":"18.6","x":50,"y":97},{"p":"i","s":"18.6","x":71,"y":100},{"p":"i","s":"18.6","x":72.5,"y":70},{"p":"i","s":"18.6","x":73.5,"y":65},{"p":"i","s":"18.6","x":75,"y":100},{"p":"i","s":"18.6","x":77,"y":115},{"p":"i","s":"18.6","x":78.3,"y":145},{"p":"i","s":"18.6","x":79.5,"y":120},{"p":"i","s":"18.6","x":81.5,"y":88},{"p":"i","s":"18.6","x":84,"y":100},{"p":"i","s":"18.6","x":87,"y":105},{"p":"i","s":"18.6","x":100,"y":100},
{"p":"i","s":"31","x":0,"y":168},{"p":"i","s":"31","x":5,"y":170},{"p":"i","s":"31","x":10,"y":175},{"p":"i","s":"31","x":14,"y":178},{"p":"i","s":"31","x":16.5,"y":165},{"p":"i","s":"31","x":18.5,"y":125},{"p":"i","s":"31","x":20,"y":155},{"p":"i","s":"31","x":22,"y":200},{"p":"i","s":"31","x":23,"y":190},{"p":"i","s":"31","x":24.5,"y":130},{"p":"i","s":"31","x":25.5,"y":100},{"p":"i","s":"31","x":26.3,"y":80},{"p":"i","s":"31","x":27.5,"y":150},{"p":"i","s":"31","x":28.5,"y":165},{"p":"i","s":"31","x":32,"y":162},{"p":"i","s":"31","x":50,"y":162},{"p":"i","s":"31","x":70,"y":163},{"p":"i","s":"31","x":71,"y":170},{"p":"i","s":"31","x":72.5,"y":110},{"p":"i","s":"31","x":73.5,"y":90},{"p":"i","s":"31","x":75,"y":130},{"p":"i","s":"31","x":77.5,"y":185},{"p":"i","s":"31","x":78.5,"y":195},{"p":"i","s":"31","x":79.5,"y":160},{"p":"i","s":"31","x":81,"y":150},{"p":"i","s":"31","x":85,"y":178},{"p":"i","s":"31","x":89,"y":175},{"p":"i","s":"31","x":100,"y":170}
]},
"spacing":24,
"resolve":{"scale":{"color":"independent","strokeDash":"independent"}},
"vconcat":[
{"spacing":12,
 "resolve":{"scale":{"color":"independent","strokeDash":"independent"}},
 "hconcat":[
 {"width":289,"height":238,"title":{"text":"(a)  Model 1"},"transform":[{"filter":"datum.p=='a'"}],
  "encoding":{"x":{"field":"x","type":"quantitative","scale":{"domain":[0,100],"nice":false,"zero":false},"axis":{"values":[0,16.667,33.333,50,66.667,83.333,100],"labelExpr":"datum.value==0?'A':(datum.value==100?'B':'')","title":null}},
   "y":{"field":"y","type":"quantitative","scale":{"domain":[0,360],"nice":false},"axis":{"values":[0,30,60,90,120,150,180,210,240,270,300,330,360],"title":"von Mises stress, MPa"}}},
  "layer":[
   {"mark":{"type":"line","clip":true},"encoding":{
    "color":{"field":"s","type":"nominal","scale":{"domain":["8","18.6","24","31"],"range":["#000000","#6e6e6e","#1a1a1a","#a0a0a0"]},"legend":{"title":null,"legendX":86,"legendY":-16,"labelExpr":"datum.label+'kgf/cm²'"}},
    "strokeDash":{"field":"s","type":"nominal","scale":{"domain":["8","18.6","24","31"],"range":[[1,0],[2,2],[1,2],[5,2,1,2]]},"legend":{"title":null}},
    "strokeWidth":{"condition":{"test":"datum.s=='8'||datum.s=='24'","value":2.4},"value":1}}},
   {"mark":{"type":"point","filled":true,"clip":true},"encoding":{
    "shape":{"condition":{"test":"datum.s=='18.6'","value":"cross"},"value":"circle"},
    "size":{"condition":[{"test":"datum.s=='31'","value":0},{"test":"datum.s=='18.6'","value":14}],"value":11},
    "fill":{"condition":{"test":"datum.s=='18.6'","value":"#666666"},"value":"#000000"}}}
  ]},
 {"width":294,"height":238,"title":{"text":"(b)  Model 2"},"transform":[{"filter":"datum.p=='b'"}],
  "encoding":{"x":{"field":"x","type":"quantitative","scale":{"domain":[0,100],"nice":false,"zero":false},"axis":{"values":[0,16.667,33.333,50,66.667,83.333,100],"labelExpr":"datum.value==0?'A':(datum.value==100?'B':'')","title":null}},
   "y":{"field":"y","type":"quantitative","scale":{"domain":[0,360],"nice":false},"axis":{"values":[0,30,60,90,120,150,180,210,240,270,300,330,360],"title":"von Mises stress, MPa"}}},
  "layer":[
   {"mark":{"type":"line","clip":true},"encoding":{
    "color":{"field":"s","type":"nominal","scale":{"domain":["8","18.6","24","31"],"range":["#000000","#6e6e6e","#1a1a1a","#a0a0a0"]},"legend":{"title":null,"legendX":93,"legendY":32,"labelExpr":"datum.label+'kgf/cm²'"}},
    "strokeDash":{"field":"s","type":"nominal","scale":{"domain":["8","18.6","24","31"],"range":[[1,0],[2,2],[1,2],[5,2,1,2]]},"legend":{"title":null}},
    "strokeWidth":{"condition":{"test":"datum.s=='8'||datum.s=='24'","value":2.4},"value":1}}},
   {"mark":{"type":"point","filled":true,"clip":true},"encoding":{
    "shape":{"condition":{"test":"datum.s=='18.6'","value":"cross"},"value":"circle"},
    "size":{"condition":[{"test":"datum.s=='31'","value":0},{"test":"datum.s=='18.6'","value":14}],"value":11},
    "fill":{"condition":{"test":"datum.s=='18.6'","value":"#666666"},"value":"#000000"}}}
  ]},
 {"width":310,"height":238,"title":{"text":"(c)  Model 3"},"transform":[{"filter":"datum.p=='c'"}],
  "encoding":{"x":{"field":"x","type":"quantitative","scale":{"domain":[0,100],"nice":false,"zero":false},"axis":{"values":[0,16.667,33.333,50,66.667,83.333,100],"labelExpr":"datum.value==0?'A':(datum.value==100?'B':'')","title":null}},
   "y":{"field":"y","type":"quantitative","scale":{"domain":[0,360],"nice":false},"axis":{"values":[0,30,60,90,120,150,180,210,240,270,300,330,360],"title":"von Mises stress, MPa"}}},
  "layer":[
   {"mark":{"type":"line","clip":true},"encoding":{
    "color":{"field":"s","type":"nominal","scale":{"domain":["8","18.6","24","31"],"range":["#000000","#6e6e6e","#1a1a1a","#a0a0a0"]},"legend":{"title":null,"legendX":94,"legendY":17,"labelExpr":"datum.label+'kgf/cm²'"}},
    "strokeDash":{"field":"s","type":"nominal","scale":{"domain":["8","18.6","24","31"],"range":[[1,0],[2,2],[1,2],[5,2,1,2]]},"legend":{"title":null}},
    "strokeWidth":{"condition":{"test":"datum.s=='8'||datum.s=='24'","value":2.4},"value":1}}},
   {"mark":{"type":"point","filled":true,"clip":true},"encoding":{
    "shape":{"condition":{"test":"datum.s=='18.6'","value":"cross"},"value":"circle"},
    "size":{"condition":[{"test":"datum.s=='31'","value":0},{"test":"datum.s=='18.6'","value":14}],"value":11},
    "fill":{"condition":{"test":"datum.s=='18.6'","value":"#666666"},"value":"#000000"}}}
  ]}
 ]},
{"spacing":10,
 "resolve":{"scale":{"color":"independent","strokeDash":"independent"}},
 "hconcat":[
 {"width":300,"height":235,"title":{"text":"(d)  Model 4"},"transform":[{"filter":"datum.p=='d'"}],
  "encoding":{"x":{"field":"x","type":"quantitative","scale":{"domain":[0,100],"nice":false,"zero":false},"axis":{"values":[0,16.667,33.333,50,66.667,83.333,100],"labelExpr":"datum.value==0?'A':(datum.value==100?'B':'')","title":null}},
   "y":{"field":"y","type":"quantitative","scale":{"domain":[0,360],"nice":false},"axis":{"values":[0,30,60,90,120,150,180,210,240,270,300,330,360],"title":"von Mises stress, MPa"}}},
  "layer":[
   {"mark":{"type":"line","clip":true},"encoding":{
    "color":{"field":"s","type":"nominal","scale":{"domain":["8","18.6","24","31"],"range":["#000000","#6e6e6e","#1a1a1a","#a0a0a0"]},"legend":{"title":null,"legendX":88,"legendY":20,"labelExpr":"datum.label+'kgf/cm²'"}},
    "strokeDash":{"field":"s","type":"nominal","scale":{"domain":["8","18.6","24","31"],"range":[[1,0],[2,2],[1,2],[5,2,1,2]]},"legend":{"title":null}},
    "strokeWidth":{"condition":{"test":"datum.s=='8'||datum.s=='24'","value":2.4},"value":1}}},
   {"mark":{"type":"point","filled":true,"clip":true},"encoding":{
    "shape":{"condition":{"test":"datum.s=='18.6'","value":"cross"},"value":"circle"},
    "size":{"condition":[{"test":"datum.s=='31'","value":0},{"test":"datum.s=='18.6'","value":14}],"value":11},
    "fill":{"condition":{"test":"datum.s=='18.6'","value":"#666666"},"value":"#000000"}}}
  ]},
 {"width":300,"height":235,"title":{"text":"(e)  Model 5"},"transform":[{"filter":"datum.p=='e'"}],
  "encoding":{"x":{"field":"x","type":"quantitative","scale":{"domain":[0,100],"nice":false,"zero":false},"axis":{"values":[0,16.667,33.333,50,66.667,83.333,100],"labelExpr":"datum.value==0?'A':(datum.value==100?'B':'')","title":null}},
   "y":{"field":"y","type":"quantitative","scale":{"domain":[0,360],"nice":false},"axis":{"values":[0,30,60,90,120,150,180,210,240,270,300,330,360],"title":"von Mises stress, MPa"}}},
  "layer":[
   {"mark":{"type":"line","clip":true},"encoding":{
    "color":{"field":"s","type":"nominal","scale":{"domain":["8","18.6","24","31"],"range":["#000000","#6e6e6e","#1a1a1a","#a0a0a0"]},"legend":{"title":null,"legendX":83,"legendY":20,"labelExpr":"datum.label+'kgf/cm²'"}},
    "strokeDash":{"field":"s","type":"nominal","scale":{"domain":["8","18.6","24","31"],"range":[[1,0],[2,2],[1,2],[5,2,1,2]]},"legend":{"title":null}},
    "strokeWidth":{"condition":{"test":"datum.s=='8'||datum.s=='24'","value":2.4},"value":1}}},
   {"mark":{"type":"point","filled":true,"clip":true},"encoding":{
    "shape":{"condition":{"test":"datum.s=='18.6'","value":"cross"},"value":"circle"},
    "size":{"condition":[{"test":"datum.s=='31'","value":0},{"test":"datum.s=='18.6'","value":14}],"value":11},
    "fill":{"condition":{"test":"datum.s=='18.6'","value":"#666666"},"value":"#000000"}}}
  ]},
 {"width":296,"height":235,"title":{"text":"(f)  Model 6"},"transform":[{"filter":"datum.p=='f'"}],
  "encoding":{"x":{"field":"x","type":"quantitative","scale":{"domain":[0,100],"nice":false,"zero":false},"axis":{"values":[0,16.667,33.333,50,66.667,83.333,100],"labelExpr":"datum.value==0?'A':(datum.value==100?'B':'')","title":null}},
   "y":{"field":"y","type":"quantitative","scale":{"domain":[0,360],"nice":false},"axis":{"values":[0,30,60,90,120,150,180,210,240,270,300,330,360],"title":"von Mises stress, MPa"}}},
  "layer":[
   {"mark":{"type":"line","clip":true},"encoding":{
    "color":{"field":"s","type":"nominal","scale":{"domain":["8","18.6","24","31"],"range":["#000000","#6e6e6e","#1a1a1a","#a0a0a0"]},"legend":{"title":null,"legendX":90,"legendY":20,"labelExpr":"datum.label+'kgf/cm²'"}},
    "strokeDash":{"field":"s","type":"nominal","scale":{"domain":["8","18.6","24","31"],"range":[[1,0],[2,2],[1,2],[5,2,1,2]]},"legend":{"title":null}},
    "strokeWidth":{"condition":{"test":"datum.s=='8'||datum.s=='24'","value":2.4},"value":1}}},
   {"mark":{"type":"point","filled":true,"clip":true},"encoding":{
    "shape":{"condition":{"test":"datum.s=='18.6'","value":"cross"},"value":"circle"},
    "size":{"condition":[{"test":"datum.s=='31'","value":0},{"test":"datum.s=='18.6'","value":14}],"value":11},
    "fill":{"condition":{"test":"datum.s=='18.6'","value":"#666666"},"value":"#000000"}}}
  ]}
 ]},
{"spacing":10,
 "resolve":{"scale":{"color":"independent","strokeDash":"independent"}},
 "hconcat":[
 {"width":304,"height":181,"title":{"text":"(g)  Model 7","offset":24},"transform":[{"filter":"datum.p=='g'"}],
  "encoding":{"x":{"field":"x","type":"quantitative","scale":{"domain":[0,100],"nice":false,"zero":false},"axis":{"values":[0,16.667,33.333,50,66.667,83.333,100],"labelExpr":"datum.value==0?'A':(datum.value==100?'B':'')","title":null}},
   "y":{"field":"y","type":"quantitative","scale":{"domain":[0,360],"nice":false},"axis":{"values":[0,30,60,90,120,150,180,210,240,270,300,330,360],"title":"von Mises stress, MPa"}}},
  "layer":[
   {"mark":{"type":"line","clip":true},"encoding":{
    "color":{"field":"s","type":"nominal","scale":{"domain":["8","18.6","24","31"],"range":["#000000","#6e6e6e","#1a1a1a","#a0a0a0"]},"legend":{"title":null,"legendX":83,"legendY":3,"labelExpr":"datum.label+'kgf/cm²'"}},
    "strokeDash":{"field":"s","type":"nominal","scale":{"domain":["8","18.6","24","31"],"range":[[1,0],[2,2],[1,2],[5,2,1,2]]},"legend":{"title":null}},
    "strokeWidth":{"condition":{"test":"datum.s=='8'||datum.s=='24'","value":2.4},"value":1}}},
   {"mark":{"type":"point","filled":true,"clip":true},"encoding":{
    "shape":{"condition":{"test":"datum.s=='18.6'","value":"cross"},"value":"circle"},
    "size":{"condition":[{"test":"datum.s=='31'","value":0},{"test":"datum.s=='18.6'","value":14}],"value":11},
    "fill":{"condition":{"test":"datum.s=='18.6'","value":"#666666"},"value":"#000000"}}}
  ]},
 {"width":296,"height":181,"title":{"text":"(h)  Model 8","offset":24},"transform":[{"filter":"datum.p=='h'"}],
  "encoding":{"x":{"field":"x","type":"quantitative","scale":{"domain":[0,100],"nice":false,"zero":false},"axis":{"values":[0,16.667,33.333,50,66.667,83.333,100],"labelExpr":"datum.value==0?'A':(datum.value==100?'B':'')","title":null}},
   "y":{"field":"y","type":"quantitative","scale":{"domain":[0,360],"nice":false},"axis":{"values":[0,30,60,90,120,150,180,210,240,270,300,330,360],"title":"von Mises stress, MPa"}}},
  "layer":[
   {"mark":{"type":"line","clip":true},"encoding":{
    "color":{"field":"s","type":"nominal","scale":{"domain":["8","18.6","24","31"],"range":["#000000","#6e6e6e","#1a1a1a","#a0a0a0"]},"legend":{"title":null,"legendX":78,"legendY":3,"labelExpr":"datum.label+'kgf/cm²'"}},
    "strokeDash":{"field":"s","type":"nominal","scale":{"domain":["8","18.6","24","31"],"range":[[1,0],[2,2],[1,2],[5,2,1,2]]},"legend":{"title":null}},
    "strokeWidth":{"condition":{"test":"datum.s=='8'||datum.s=='24'","value":2.4},"value":1}}},
   {"mark":{"type":"point","filled":true,"clip":true},"encoding":{
    "shape":{"condition":{"test":"datum.s=='18.6'","value":"cross"},"value":"circle"},
    "size":{"condition":[{"test":"datum.s=='31'","value":0},{"test":"datum.s=='18.6'","value":14}],"value":11},
    "fill":{"condition":{"test":"datum.s=='18.6'","value":"#666666"},"value":"#000000"}}}
  ]},
 {"width":300,"height":181,"title":{"text":"(i)  Model 9","offset":24},"transform":[{"filter":"datum.p=='i'"}],
  "encoding":{"x":{"field":"x","type":"quantitative","scale":{"domain":[0,100],"nice":false,"zero":false},"axis":{"values":[0,16.667,33.333,50,66.667,83.333,100],"labelExpr":"datum.value==0?'A':(datum.value==100?'B':'')","title":null}},
   "y":{"field":"y","type":"quantitative","scale":{"domain":[0,360],"nice":false},"axis":{"values":[0,30,60,90,120,150,180,210,240,270,300,330,360],"title":"von Mises stress, MPa"}}},
  "layer":[
   {"mark":{"type":"line","clip":true},"encoding":{
    "color":{"field":"s","type":"nominal","scale":{"domain":["8","18.6","24","31"],"range":["#000000","#6e6e6e","#1a1a1a","#a0a0a0"]},"legend":{"title":null,"legendX":83,"legendY":3,"labelExpr":"datum.label+'kgf/cm²'"}},
    "strokeDash":{"field":"s","type":"nominal","scale":{"domain":["8","18.6","24","31"],"range":[[1,0],[2,2],[1,2],[5,2,1,2]]},"legend":{"title":null}},
    "strokeWidth":{"condition":{"test":"datum.s=='8'||datum.s=='24'","value":2.4},"value":1}}},
   {"mark":{"type":"point","filled":true,"clip":true},"encoding":{
    "shape":{"condition":{"test":"datum.s=='18.6'","value":"cross"},"value":"circle"},
    "size":{"condition":[{"test":"datum.s=='31'","value":0},{"test":"datum.s=='18.6'","value":14}],"value":11},
    "fill":{"condition":{"test":"datum.s=='18.6'","value":"#666666"},"value":"#000000"}}}
  ]}
 ]}
]
}
